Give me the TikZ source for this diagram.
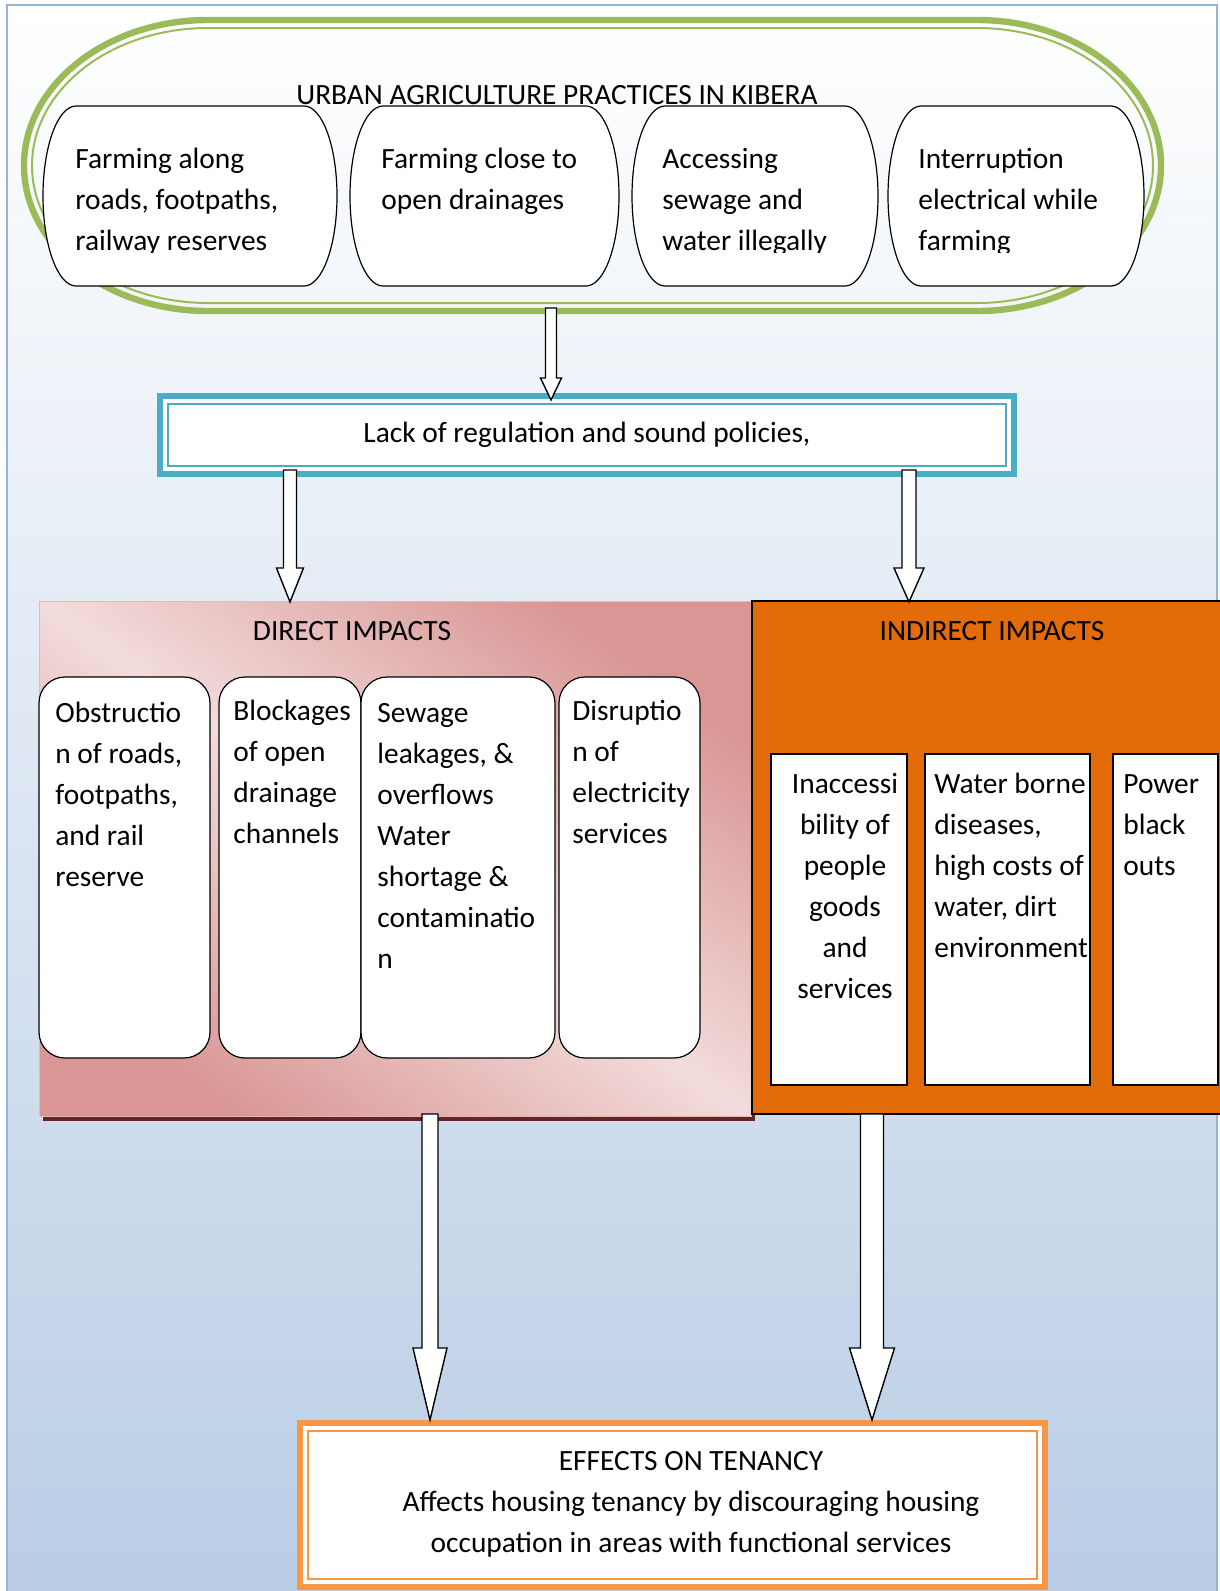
\documentclass[tikz,border=0pt]{standalone}
\usepackage{fontspec}
\setmainfont{Carlito}
\usepackage{tikz}
\usetikzlibrary{calc}

\definecolor{ringgreen}{HTML}{9BBB59}
\definecolor{policyblue}{HTML}{4BACC6}
\definecolor{frameblue}{HTML}{95B3D7}
\definecolor{bgblue}{HTML}{B9CDE5}
\definecolor{pinkdark}{HTML}{D99694}
\definecolor{pinklight}{HTML}{F2DCDB}
\definecolor{pinkline}{HTML}{E6B9B8}
\definecolor{shadowred}{HTML}{632523}
\definecolor{indorange}{HTML}{E36C09}
\definecolor{efforange}{HTML}{F79646}

\newcommand\boxfont{\fontsize{14.7}{20.5}\selectfont}
\newcommand\pill[1]{\draw[fill=white,line width=0.6pt] ([xshift=16.5pt]#1.north west) -- ([xshift=-16.5pt]#1.north east) arc[start angle=90,end angle=-90,x radius=16.5pt,y radius=45pt] -- ([xshift=16.5pt]#1.south west) arc[start angle=270,end angle=90,x radius=16.5pt,y radius=45pt] -- cycle;}
\newcommand\hollowarrow[5]{\draw[fill=white,line width=0.7pt] ($(#1)+(-#3,0)$) -- ($(#2)+(-#3,-#5)$) -- ($(#2)+(-#4,-#5)$) -- (#2) -- ($(#2)+(#4,-#5)$) -- ($(#2)+(#3,-#5)$) -- ($(#1)+(#3,0)$) -- cycle;}

\tikzset{
    boxtext/.style={font=\boxfont,inner sep=0pt,anchor=north west,align=left},
    title/.style={font=\boxfont,inner sep=0pt,anchor=base},
    pillnode/.style={minimum width=#1,minimum height=90pt,inner sep=0pt,outer sep=0pt},
    impactbox/.style={draw,line width=0.6pt,fill=white,rounded corners=13pt,minimum width=#1,minimum height=190.5pt,inner sep=0pt,outer sep=0pt},
    sidebox/.style={draw,line width=0.6pt,fill=white,minimum width=#1,minimum height=165.5pt,inner sep=0pt,outer sep=0pt},
    dblframe/.style={draw=#1,line width=3pt,fill=white,inner sep=0pt,outer sep=0pt,
        path picture={\draw[#1,line width=1pt] ([shift={(4pt,-4pt)}]path picture bounding box.north west) rectangle ([shift={(-4pt,4pt)}]path picture bounding box.south east);}}
}

\begin{document}
\begin{tikzpicture}[x=0.5pt,y=-0.5pt]
            \useasboundingbox (0,0) rectangle (1220,1591);
            \shade[top color=white,bottom color=bgblue] (7,5) rectangle (1217,1600);
            \draw[frameblue,line width=1pt] (7,5) rectangle (1217,1600);

            \node[minimum width=568.5pt,minimum height=145.5pt,inner sep=0pt,outer sep=0pt] (practices) at (592.5,165.5) {};
            \draw[ringgreen,line width=3.2pt] ([xshift=92pt]practices.north west) -- ([xshift=-92pt]practices.north east) arc[start angle=90,end angle=-90,x radius=92pt,y radius=72.75pt] -- ([xshift=92pt]practices.south west) arc[start angle=270,end angle=90,x radius=92pt,y radius=72.75pt] -- cycle;
            \draw[ringgreen,line width=1pt] ([shift={(92pt,-4pt)}]practices.north west) -- ([shift={(-92pt,-4pt)}]practices.north east) arc[start angle=90,end angle=-90,x radius=88pt,y radius=68.75pt] -- ([shift={(92pt,4pt)}]practices.south west) arc[start angle=270,end angle=90,x radius=88pt,y radius=68.75pt] -- cycle;
            \node[title] (practicestitle) at (557,104) {URBAN AGRICULTURE PRACTICES IN KIBERA};

            \node[pillnode=147pt] (farmroad) at (190,196) {};
            \node[pillnode=134.5pt] (farmdrain) at (484.5,196) {};
            \node[pillnode=123pt] (accessing) at (755,196) {};
            \node[pillnode=128pt] (interrupt) at (1016,196) {};
            \foreach \n in {farmroad,farmdrain,accessing,interrupt} {\pill{\n}}
            \begin{scope}
                \clip (0,100) rectangle (1220,252);
                \node[boxtext] (farmroadtext) at (75,139.3) {\strut Farming along\\roads, footpaths,\\railway reserves};
                \node[boxtext] (farmdraintext) at (381,139.3) {\strut Farming close to\\open drainages};
                \node[boxtext] (accessingtext) at (662,139.3) {\strut Accessing\\sewage and\\water illegally};
                \node[boxtext] (interrupttext) at (918,139.3) {\strut Interruption\\electrical while\\farming};
            \end{scope}

            \node[dblframe=policyblue,minimum width=427pt,minimum height=39pt,font=\boxfont] (policy) at (587,435) {Lack of regulation and sound policies,};

            \fill[shadowred] (43,606) rectangle (755,1121);
            \node[draw=pinkline,line width=0.5pt,left color=pinkdark,right color=pinkdark,middle color=pinklight,shading angle=144,minimum width=356pt,minimum height=257.5pt,inner sep=0pt,outer sep=0pt] (direct) at (395,858.5) {};
            \node[draw=black,line width=0.6pt,fill=indorange,minimum width=239pt,minimum height=256.5pt,inner sep=0pt,outer sep=0pt] (indirect) at (991,857.5) {};
            \node[title] (directtitle) at (352,640) {DIRECT IMPACTS};
            \node[title] (indirecttitle) at (992,640) {INDIRECT IMPACTS};

            \node[impactbox=85.5pt] (obstruct) at (124.5,867.5) {};
            \node[impactbox=71pt] (blockage) at (290,867.5) {};
            \node[impactbox=97pt] (leakage) at (458,867.5) {};
            \node[impactbox=70.5pt] (disrupt) at (629.5,867.5) {};
            \node[boxtext] (obstructtext) at (55,693.3) {\strut Obstructio\\n of roads,\\footpaths,\\and rail\\reserve};
            \node[boxtext] (blockagetext) at (233,691.3) {\strut Blockages\\of open\\drainage\\channels};
            \node[boxtext] (leakagetext) at (377,693.3) {\strut Sewage\\leakages, \&\\overflows\\Water\\shortage \&\\contaminatio\\n};
            \node[boxtext] (disrupttext) at (572,691.3) {\strut Disruptio\\n of\\electricity\\services};

            \node[sidebox=68pt] (access) at (839,919.5) {};
            \node[sidebox=82.5pt] (disease) at (1007.5,919.5) {};
            \node[sidebox=52.5pt] (blackout) at (1165.5,919.5) {};
            \node[boxtext,anchor=north,align=center] (accesstext) at (845,764.3) {\strut Inaccessi\\bility of\\people\\goods\\and\\services};
            \node[boxtext] (diseasetext) at (934,764.3) {\strut Water borne\\diseases,\\high costs of\\water, dirt\\environment};
            \node[boxtext] (blackouttext) at (1123,764.3) {\strut Power\\black\\outs};

            \node[dblframe=efforange,minimum width=372.5pt,minimum height=82pt] (effects) at (672.5,1505) {};
            \node[boxtext,anchor=north,align=center] (effectstext) at (691,1441.3) {\strut EFFECTS ON TENANCY\\Affects housing tenancy by discouraging housing\\occupation in areas with functional services};

            \coordinate (a1s) at ($(practices.south)+(-41.5,-3)$);
            \coordinate (a1e) at ($(policy.north)+(-36,4)$);
            \hollowarrow{a1s}{a1e}{5.5}{10.5}{22}
            \coordinate (a2s) at ($(policy.south)+(-297,-4)$);
            \coordinate (a2e) at ($(direct.north)+(-105,1)$);
            \hollowarrow{a2s}{a2e}{6.5}{13.5}{34}
            \coordinate (a3s) at ($(policy.south)+(322,-4)$);
            \coordinate (a3e) at ($(indirect.north)+(-82,1)$);
            \hollowarrow{a3s}{a3e}{7}{15}{34}
            \coordinate (a4s) at ($(direct.south)+(35,-2)$);
            \coordinate (a4e) at ($(effects.north)+(-242.5,-3)$);
            \hollowarrow{a4s}{a4e}{8}{17}{72}
            \coordinate (a5s) at ($(indirect.south)+(-119,0)$);
            \coordinate (a5e) at ($(effects.north)+(199.5,-3)$);
            \hollowarrow{a5s}{a5e}{11.5}{22.5}{72}
        \end{tikzpicture}
\end{document}
